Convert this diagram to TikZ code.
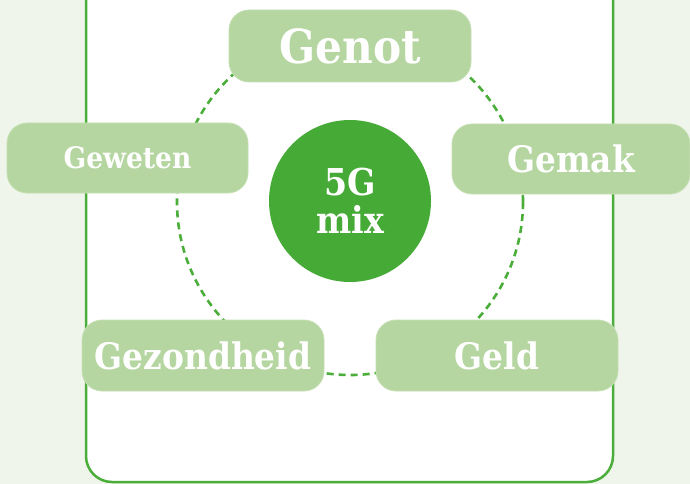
\documentclass[tikz,border=0pt]{standalone}
\usepackage{fontspec}
\setmainfont{DejaVu Serif}[BoldFont={DejaVu Serif Bold},BoldFeatures={FakeStretch=0.9}]
\definecolor{bgcol}{HTML}{EFF5EA}
\definecolor{framecol}{HTML}{4BAE3B}
\definecolor{boxcol}{HTML}{B5D6A0}
\definecolor{boxedge}{HTML}{C6E0B5}
\definecolor{mixcol}{HTML}{46AB36}
\tikzset{
  box/.style={fill=boxcol, draw=boxedge, line width=0.8pt, rounded corners=20pt, text=white, inner sep=0pt, font=\bfseries},
  ringstyle/.style={circle, draw=framecol, line width=2.6pt, dash pattern=on 7pt off 5pt, inner sep=0pt},
}
\begin{document}
\begin{tikzpicture}[x=1pt,y=-1pt]
\useasboundingbox (0,0) rectangle (690,484);
\fill[bgcol] (0,0) rectangle (690,484);
\draw[framecol, fill=white, line width=2.5pt, rounded corners=26pt] (86,-40) rectangle (613,482);
\node[ringstyle, minimum size=346pt] (ring) at (350,202) {};
\node[circle, fill=mixcol, minimum size=162pt, inner sep=0pt, text=white, align=center, font=\bfseries\fontsize{37}{38}\selectfont] (mix) at (350,201) {5G\\mix};
\node[box, minimum width=242pt, minimum height=72pt, font=\bfseries\fontsize{47}{48}\selectfont] (genot) at (350,46) {Genot};
\node[box, minimum width=241pt, minimum height=70pt, font=\bfseries\fontsize{29.5}{31}\selectfont] (geweten) at (127.5,158) {Geweten};
\node[box, minimum width=238pt, minimum height=70pt, font=\bfseries\fontsize{36.5}{38}\selectfont] (gemak) at (571,159) {Gemak};
\node[box, minimum width=242pt, minimum height=71pt, font=\bfseries\fontsize{36.5}{38}\selectfont] (gezondheid) at (203,355.5) {Gezondheid};
\node[box, minimum width=242pt, minimum height=71pt, font=\bfseries\fontsize{36.5}{38}\selectfont] (geld) at (497,355.5) {Geld};
\end{tikzpicture}
\end{document}
